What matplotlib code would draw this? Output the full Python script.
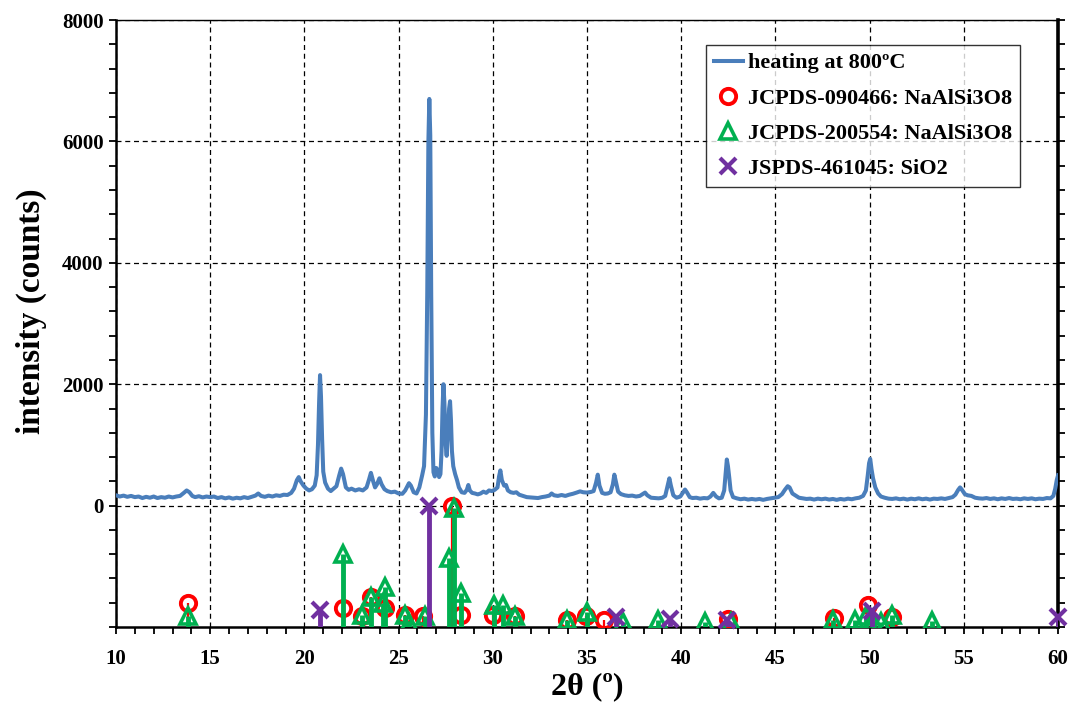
import matplotlib
matplotlib.use("Agg")
import matplotlib.pyplot as plt
from matplotlib.ticker import MultipleLocator, FixedLocator

plt.rcParams['font.family'] = ['Liberation Serif', 'DejaVu Serif']
plt.rcParams['font.weight'] = 'bold'

two_theta = [10.0, 10.2, 10.4, 10.6, 10.8, 11.0, 11.2, 11.4, 11.6, 11.8, 12.0, 12.2, 12.4, 12.6, 12.8,
             13.0, 13.2, 13.4, 13.6, 13.75, 13.9, 14.05, 14.2, 14.4, 14.6, 14.8, 15.0, 15.2, 15.4, 15.6,
             15.8, 16.0, 16.2, 16.4, 16.6, 16.8, 17.0, 17.2, 17.4, 17.55, 17.7, 17.9, 18.1, 18.3, 18.5,
             18.7, 18.9, 19.1, 19.3, 19.45, 19.6, 19.7, 19.8, 19.95, 20.1, 20.25, 20.4, 20.55, 20.65,
             20.72, 20.78, 20.83, 20.88, 20.94, 21.0, 21.1, 21.25, 21.4, 21.55, 21.7, 21.85, 21.95, 22.05,
             22.2, 22.35, 22.5, 22.7, 22.9, 23.1, 23.3, 23.43, 23.53, 23.65, 23.75, 23.85, 23.98, 24.1,
             24.25, 24.4, 24.6, 24.8, 25.0, 25.2, 25.35, 25.55, 25.65, 25.8, 25.95, 26.1, 26.25, 26.35,
             26.45, 26.52, 26.58, 26.63, 26.68, 26.73, 26.79, 26.85, 26.92, 27.0, 27.08, 27.15, 27.22,
             27.28, 27.33, 27.38, 27.43, 27.5, 27.55, 27.62, 27.68, 27.73, 27.78, 27.83, 27.9, 28.0, 28.1,
             28.2, 28.35, 28.5, 28.62, 28.7, 28.78, 28.9, 29.05, 29.2, 29.35, 29.5, 29.65, 29.8, 29.95,
             30.1, 30.25, 30.33, 30.4, 30.48, 30.6, 30.7, 30.8, 30.95, 31.1, 31.25, 31.4, 31.6, 31.8,
             32.0, 32.2, 32.4, 32.6, 32.8, 33.0, 33.12, 33.25, 33.45, 33.65, 33.85, 34.05, 34.25, 34.45,
             34.63, 34.8, 35.0, 35.2, 35.35, 35.48, 35.57, 35.66, 35.8, 35.95, 36.1, 36.25, 36.37, 36.45,
             36.53, 36.65, 36.8, 37.0, 37.2, 37.4, 37.6, 37.8, 37.95, 38.08, 38.2, 38.4, 38.6, 38.8, 39.0,
             39.15, 39.28, 39.37, 39.45, 39.58, 39.75, 39.95, 40.1, 40.2, 40.3, 40.45, 40.6, 40.8, 41.0,
             41.2, 41.4, 41.55, 41.7, 41.85, 42.0, 42.15, 42.28, 42.36, 42.42, 42.48, 42.55, 42.62, 42.75,
             42.95, 43.15, 43.35, 43.55, 43.75, 43.95, 44.15, 44.35, 44.55, 44.75, 44.95, 45.15, 45.35,
             45.5, 45.65, 45.75, 45.9, 46.05, 46.25, 46.45, 46.65, 46.85, 47.05, 47.25, 47.45, 47.65,
             47.85, 48.05, 48.25, 48.45, 48.65, 48.85, 49.05, 49.25, 49.45, 49.65, 49.8, 49.9, 49.97,
             50.03, 50.1, 50.18, 50.3, 50.45, 50.6, 50.8, 51.0, 51.2, 51.4, 51.6, 51.8, 52.0, 52.2, 52.4,
             52.6, 52.8, 53.0, 53.2, 53.4, 53.6, 53.8, 54.0, 54.2, 54.4, 54.55, 54.7, 54.8, 54.9, 55.05,
             55.2, 55.4, 55.6, 55.8, 56.0, 56.2, 56.4, 56.6, 56.8, 57.0, 57.2, 57.4, 57.6, 57.8, 58.0,
             58.2, 58.4, 58.6, 58.8, 59.0, 59.2, 59.4, 59.6, 59.75, 59.85, 59.93, 60.0]
counts = [170, 150, 165, 145, 160, 140, 150, 125, 145, 130, 150, 125, 140, 130, 150,
          135, 150, 160, 210, 250, 220, 160, 140, 155, 135, 150, 140, 150, 125, 140,
          120, 135, 115, 130, 120, 140, 125, 145, 165, 200, 160, 145, 165, 150, 170,
          160, 180, 175, 210, 280, 420, 470, 400, 330, 280, 250, 270, 330, 500,
          1000, 1700, 2150, 1800, 1100, 560, 380, 280, 240, 280, 320, 500, 610, 520,
          300, 260, 280, 250, 270, 250, 300, 430, 540, 400, 300, 350, 450, 350,
          270, 240, 220, 230, 200, 195, 250, 370, 330, 220, 200, 300, 500, 650,
          1500, 3500, 6000, 6700, 6100, 3500, 1200, 550, 480, 620, 580, 470, 520,
          900, 1600, 2000, 1700, 1000, 820, 1200, 1600, 1720, 1400, 900, 650, 520, 420,
          300, 220, 210, 260, 340, 250, 210, 200, 185, 200, 230, 210, 250, 240,
          260, 300, 480, 580, 420, 330, 340, 250, 220, 210, 220, 180, 160, 140,
          135, 130, 125, 140, 150, 165, 200, 170, 160, 175, 160, 180, 195, 215,
          235, 220, 215, 225, 240, 380, 510, 330, 210, 195, 200, 220, 350, 510,
          400, 230, 190, 170, 160, 165, 150, 160, 190, 215, 170, 130, 125, 120, 130,
          160, 330, 450, 330, 170, 130, 150, 220, 265, 220, 140, 125, 130, 115,
          125, 120, 150, 210, 150, 120, 130, 250, 550, 760, 650, 460, 250, 140,
          120, 105, 115, 100, 110, 100, 110, 95, 110, 120, 130, 140, 190,
          260, 320, 300, 200, 170, 130, 120, 110, 115, 100, 115, 105, 115,
          100, 110, 95, 110, 100, 115, 105, 120, 130, 160, 250, 500, 700,
          770, 600, 450, 300, 200, 150, 130, 115, 110, 120, 105, 115, 100, 115, 105,
          120, 105, 115, 100, 115, 110, 120, 110, 125, 140, 180, 260, 300, 260, 190,
          170, 160, 130, 120, 115, 125, 110, 120, 105, 120, 110, 125, 110, 115, 105,
          120, 110, 120, 105, 115, 110, 125, 120, 160, 280, 420, 500]

# reference cards: peak position and relative intensity (%)
jcpds_090466_pos = [13.84, 22.03, 23.04, 23.52, 24.28, 25.34, 26.31, 27.86, 28.29, 30.03,
                    31.18, 33.96, 34.95, 35.9, 42.5, 48.11, 49.93, 51.17]
jcpds_090466_rel = [20, 16, 9, 25, 16, 10, 9, 100, 9.5, 9.5, 9, 6, 9, 5.6, 7, 7.5, 18.5, 8]

jcpds_200554_pos = [13.84, 22.03, 23.04, 23.52, 24.16, 24.28, 25.34, 25.57, 26.4, 27.69, 27.92,
                    28.29, 30.06, 30.52, 31.18, 33.96, 34.98, 36.92, 38.78, 41.26, 42.63, 48.04,
                    49.22, 49.8, 50.2, 50.58, 51.17, 53.3]
jcpds_200554_rel = [9, 60, 10, 25, 20, 33, 10, 3.5, 9, 57, 98, 28, 18.5, 18.5, 9, 6, 12, 4, 6, 4,
                    4, 6, 6, 9, 5, 4, 10, 5]

jspds_461045_pos = [20.83, 26.63, 36.54, 39.4, 42.41, 50.1, 60.0]
jspds_461045_rel = [14, 100, 8.5, 7, 5.6, 13, 8.5]

# stick pattern is drawn below zero: 0% at -2000, 100% at 0
base = -2000
def stick_y(rel):
    return [base + r * 20 for r in rel]

fig = plt.figure(figsize=(10.72, 7.05), dpi=100)
ax = fig.add_axes([0.1082, 0.1106, 0.8788, 0.861])

ax.plot(two_theta, counts, color='#4a7ebb', lw=2.9, label='heating at 800ºC', zorder=3)

ax.vlines(jcpds_090466_pos, base, stick_y(jcpds_090466_rel), color='#ff0000', lw=1.6, zorder=4)
ax.plot(jcpds_090466_pos, stick_y(jcpds_090466_rel), 'o', ms=11, mfc='none', mec='#ff0000', mew=2.8,
        ls='none', label='JCPDS-090466: NaAlSi3O8', zorder=4)

ax.vlines(jcpds_200554_pos, base, stick_y(jcpds_200554_rel), color='#00b050', lw=3.5, zorder=5)
ax.plot(jcpds_200554_pos, stick_y(jcpds_200554_rel), '^', ms=11, mfc='none', mec='#00b050', mew=2.6,
        ls='none', label='JCPDS-200554: NaAlSi3O8', zorder=5)

ax.vlines(jspds_461045_pos, base, stick_y(jspds_461045_rel), color='#7030a0', lw=3.5, zorder=6)
ax.plot(jspds_461045_pos, stick_y(jspds_461045_rel), 'x', ms=11, mec='#7030a0', mew=3,
        ls='none', label='JSPDS-461045: SiO2', zorder=6, clip_on=False)

ax.set_xlim(10, 60)
ax.set_ylim(-2000, 8000)
ax.xaxis.set_major_locator(MultipleLocator(5))
ax.xaxis.set_minor_locator(MultipleLocator(1))
ax.yaxis.set_major_locator(FixedLocator([0, 2000, 4000, 6000, 8000]))
ax.yaxis.set_minor_locator(MultipleLocator(400))

ax.grid(True, which='major', color='black', ls=(0, (4, 3)), lw=0.9)
ax.tick_params(axis='both', which='both', direction='out', length=5, width=1.3,
               labelsize=15, right=True, top=False)
ax.tick_params(axis='x', pad=11)
ax.tick_params(axis='y', pad=4)
for lab in ax.get_xticklabels() + ax.get_yticklabels():
    lab.set_fontweight('bold')
for side in ['left', 'bottom']:
    ax.spines[side].set_linewidth(1.8)
ax.spines['right'].set_linewidth(2.6)
ax.spines['top'].set_linewidth(1.0)

ax.set_xlabel('2θ (º)', fontsize=23, fontweight='bold', labelpad=2)
ax.set_ylabel('intensity (counts)', fontsize=24, fontweight='bold')
ax.yaxis.set_label_coords(-0.073, 0.52)

leg = ax.legend(loc='upper right', bbox_to_anchor=(0.9597, 0.9588), fontsize=16,
                frameon=True, fancybox=False, edgecolor='black', handlelength=1.3,
                borderpad=0.35, labelspacing=0.66, handletextpad=0.25, borderaxespad=0)
leg.get_frame().set_linewidth(1.0)
for t in leg.get_texts():
    t.set_fontweight('bold')

fig.savefig('out.png', dpi=100)
